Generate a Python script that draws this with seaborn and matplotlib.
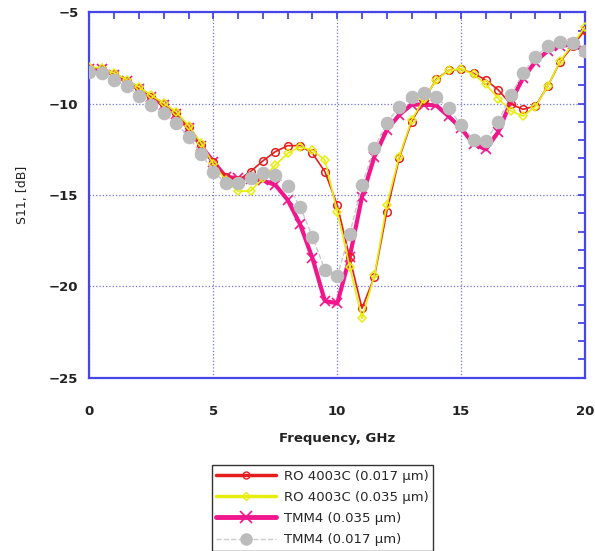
import numpy as np
import pandas as pd
import matplotlib
matplotlib.use("Agg")
import matplotlib.pyplot as plt
import seaborn as sns
from matplotlib.ticker import MultipleLocator
from matplotlib.lines import Line2D

freq = [i * 0.5 for i in range(41)]

ro_017 = [-8.05, -8.1, -8.38, -8.74, -9.16, -9.62, -10.04, -10.53, -11.3, -12.26,
          -13.2, -14.0, -14.2, -13.72, -13.13, -12.63, -12.3, -12.3, -12.72, -13.72,
          -15.55, -18.41, -21.2, -19.47, -15.91, -12.99, -10.99, -9.8, -8.66, -8.18,
          -8.12, -8.34, -8.71, -9.25, -10.02, -10.31, -10.13, -9.03, -7.7, -6.85, -5.97]

ro_035 = [-8.0, -8.05, -8.33, -8.68, -9.1, -9.55, -9.98, -10.45, -11.2, -12.15,
          -13.3, -14.2, -14.8, -14.78, -14.09, -13.36, -12.72, -12.37, -12.55, -13.08,
          -15.91, -18.92, -21.75, -19.4, -15.55, -12.9, -10.9, -9.75, -8.7, -8.18,
          -8.1, -8.4, -8.95, -9.72, -10.4, -10.68, -10.16, -9.03, -7.66, -6.75, -5.8]

tmm_035 = [-8.1, -8.12, -8.42, -8.78, -9.2, -9.66, -10.08, -10.58, -11.35, -12.3,
           -13.18, -14.0, -14.09, -14.14, -14.2, -14.45, -15.27, -16.6, -18.46, -20.8,
           -20.93, -18.41, -15.09, -12.9, -11.44, -10.62, -10.05, -10.05, -10.1, -10.7,
           -11.35, -12.2, -12.5, -11.55, -9.9, -8.6, -7.7, -7.1, -6.85, -6.75, -7.1]

tmm_017 = [-8.25, -8.34, -8.71, -9.04, -9.56, -10.07, -10.53, -11.08, -11.81, -12.74,
           -13.72, -14.36, -14.36, -14.09, -13.82, -13.9, -14.5, -15.64, -17.28, -19.1,
           -19.42, -17.15, -14.45, -12.45, -11.04, -10.2, -9.65, -9.43, -9.65, -10.25,
           -11.17, -11.99, -12.04, -10.99, -9.53, -8.34, -7.43, -6.84, -6.61, -6.66, -7.1]

labels = ["RO 4003C (0.017 µm)", "RO 4003C (0.035 µm)", "TMM4 (0.035 µm)", "TMM4 (0.017 µm)"]
x_ticks = [0, 5, 10, 15, 20]
y_ticks = [-25, -20, -15, -10, -5]

sns.set_style("white")
plt.rcParams['font.family'] = ['DejaVu Sans']

fig = plt.figure(figsize=(5.95, 5.51), dpi=100)
ax = fig.add_axes([0.1504, 0.3145, 0.8328, 0.6632])

df = pd.DataFrame({"f": freq, "r17": ro_017, "r35": ro_035, "t35": tmm_035, "t17": tmm_017})

RED, YEL, MAG, GRY = "#e41e1e", "#e6ee10", "#f0168c", "#bcbcbc"

sns.lineplot(data=df, x="f", y="t35", ax=ax, color=MAG, lw=3.0, marker="x",
             markersize=7, markeredgewidth=1.2, markeredgecolor=MAG, zorder=3)
sns.lineplot(data=df, x="f", y="r17", ax=ax, color=RED, lw=1.2, marker="o",
             markersize=5.5, markerfacecolor="none", markeredgecolor=RED,
             markeredgewidth=1.1, zorder=4)
sns.lineplot(data=df, x="f", y="r35", ax=ax, color=YEL, lw=1.2, marker="D",
             markersize=4.2, markerfacecolor="none", markeredgecolor=YEL,
             markeredgewidth=1.1, zorder=4)
sns.lineplot(data=df, x="f", y="t17", ax=ax, color="#c8c8c8", lw=1.0, linestyle="--",
             marker="o", markersize=9, markerfacecolor=GRY, markeredgecolor=GRY,
             zorder=5)

ax.set_xlim(0, 20)
ax.set_ylim(-25, -5)
ax.set_xticks(x_ticks)
ax.set_yticks(y_ticks)
ax.xaxis.set_minor_locator(MultipleLocator(1))
ax.yaxis.set_minor_locator(MultipleLocator(1))
ax.tick_params(which="both", direction="in", top=True, right=True, color="#3a3ae0",
               width=1.2, length=5)
ax.tick_params(axis="x", which="major", pad=20)
ax.tick_params(axis="y", which="major", pad=8)
for lab in ax.get_xticklabels() + ax.get_yticklabels():
    lab.set_fontweight("bold")
    lab.set_fontsize(9.5)
    lab.set_color("#222222")
for sp in ax.spines.values():
    sp.set_color("#4646e6")
    sp.set_linewidth(1.6)
ax.grid(True, which="major", color="#7070e0", linestyle=":", linewidth=0.9)

ax.set_xlabel("Frequency, GHz", fontsize=9.5, fontweight="bold", color="#222222", labelpad=10)
ax.set_ylabel("S11, [dB]", fontsize=9, color="#222222", labelpad=14)

handles = [
    Line2D([], [], color=RED, lw=2.5, marker="o", markersize=5, markerfacecolor="none", markeredgecolor=RED),
    Line2D([], [], color=YEL, lw=2.5, marker="D", markersize=4.5, markerfacecolor="none", markeredgecolor=YEL),
    Line2D([], [], color=MAG, lw=3.5, marker="x", markersize=8, markeredgewidth=1.2),
    Line2D([], [], color="#cccccc", lw=1.0, linestyle="--", marker="o", markersize=8,
           markerfacecolor=GRY, markeredgecolor=GRY),
]
leg = fig.legend(handles, labels, loc="upper left", bbox_to_anchor=(0.356, 0.156),
                 frameon=True, fancybox=False, fontsize=9.5, handlelength=4.5,
                 labelspacing=0.62, borderpad=0.35, handletextpad=0.6, borderaxespad=0)
leg.get_frame().set_edgecolor("black")
leg.get_frame().set_linewidth(1.0)

fig.savefig("out.png", dpi=100)
